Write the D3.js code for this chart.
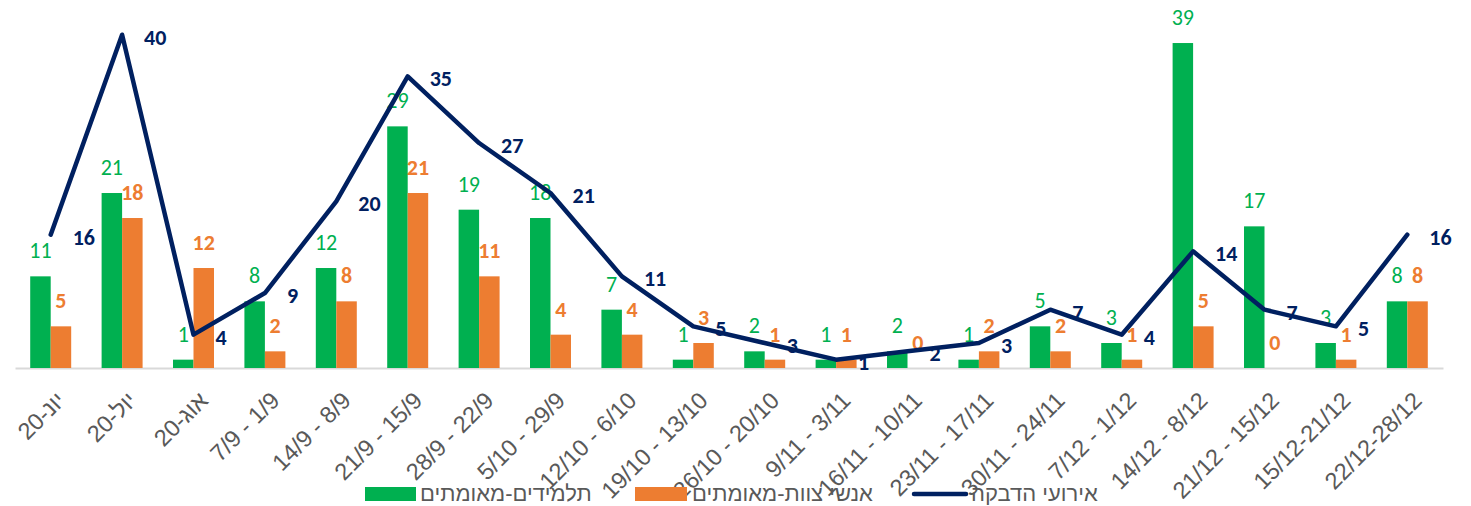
<!DOCTYPE html>
<html>
<head>
<meta charset="utf-8">
<script src="https://cdn.jsdelivr.net/npm/d3@7"></script>
<style>
  body { margin: 0; background: #fff; }
  svg { display: block; }
</style>
</head>
<body>
<svg id="chart"></svg>
<script>
var width = 1471;
var height = 506;

// week labels as they appear on the axis
var weeks = ["יונ-20", "יול-20", "אוג-20", "7/9 - 1/9", "14/9 - 8/9", "21/9 - 15/9",
  "28/9 - 22/9", "5/10 - 29/9", "12/10 - 6/10", "19/10 - 13/10", "26/10 - 20/10",
  "9/11 - 3/11", "16/11 - 10/11", "23/11 - 17/11", "30/11 - 24/11", "7/12 - 1/12",
  "14/12 - 8/12", "21/12 - 15/12", "15/12-21/12", "22/12-28/12"];

var students = [11, 21, 1, 8, 12, 29, 19, 18, 7, 1, 2, 1, 2, 1, 5, 3, 39, 17, 3, 8];
var staff = [5, 18, 12, 2, 8, 21, 11, 4, 4, 3, 1, 1, 0, 2, 2, 1, 5, 0, 1, 8];
var events = [16, 40, 4, 9, 20, 35, 27, 21, 11, 5, 3, 1, 2, 3, 7, 4, 14, 7, 5, 16];

var seriesNames = ["תלמידים-מאומתים", "אנשי צוות-מאומתים", "אירועי הדבקה"];

var green = "#00B050", orange = "#ED7D31", navy = "#002060";
var baseY = 368;

var data = weeks.map((w, i) => ({week: w, students: students[i], staff: staff[i], events: events[i]}));

var svg = d3.select("#chart").attr("width", width).attr("height", height);

var xScale = d3.scaleBand()
  .domain(weeks)
  .range([15, 1443])
  .paddingInner(0.426)
  .paddingOuter(0.213);

var subScale = d3.scaleBand()
  .domain(["students", "staff"])
  .range([0, xScale.bandwidth()]);

var yScale = d3.scaleLinear()
  .domain([0, 40])
  .range([baseY, baseY - 333.3]);

var axisFont = "'Liberation Sans', Arial, sans-serif";

// x axis
var xAxis = d3.axisBottom(xScale).tickSize(0).tickSizeOuter(0);
var gx = svg.append("g")
  .attr("transform", "translate(0," + baseY + ")")
  .call(xAxis);
gx.attr("font-family", axisFont);
gx.select(".domain").attr("stroke", "#d9d9d9").attr("stroke-width", 2);
gx.selectAll(".tick text")
  .attr("font-family", axisFont)
  .attr("font-size", 23.5)
  .attr("fill", "#595959")
  .attr("text-anchor", "end")
  .attr("dy", null)
  .attr("y", 0)
  .attr("transform", "translate(16,34) rotate(-45)");

// bars
var groups = svg.append("g").selectAll("g")
  .data(data)
  .enter()
  .append("g")
    .attr("transform", d => "translate(" + xScale(d.week) + ",0)");

groups.append("rect")
  .attr("x", subScale("students"))
  .attr("width", subScale.bandwidth())
  .attr("y", d => yScale(d.students))
  .attr("height", d => baseY - yScale(d.students))
  .attr("fill", green);

groups.append("rect")
  .attr("x", subScale("staff"))
  .attr("width", subScale.bandwidth())
  .attr("y", d => yScale(d.staff))
  .attr("height", d => baseY - yScale(d.staff))
  .attr("fill", orange);

var labelFont = "'Liberation Sans Narrow', 'Arial Narrow', Carlito, sans-serif";

groups.append("text")
  .attr("x", subScale("students") + subScale.bandwidth() / 2)
  .attr("y", d => yScale(d.students) - 18)
  .attr("text-anchor", "middle")
  .attr("font-family", labelFont)
  .attr("font-size", 22)
  .attr("fill", green)
  .text(d => d.students);

groups.append("text")
  .attr("x", subScale("staff") + subScale.bandwidth() / 2)
  .attr("y", d => yScale(d.staff) - 18)
  .attr("text-anchor", "middle")
  .attr("font-family", labelFont)
  .attr("font-weight", "bold")
  .attr("font-size", 22)
  .attr("fill", orange)
  .text(d => d.staff);

// line
var cx = d => xScale(d.week) + xScale.bandwidth() / 2;
var line = d3.line()
  .x(cx)
  .y(d => yScale(d.events));

svg.append("path")
  .datum(data)
  .attr("d", line)
  .attr("fill", "none")
  .attr("stroke", navy)
  .attr("stroke-width", 4.5)
  .attr("stroke-linejoin", "round")
  .attr("stroke-linecap", "round");

svg.append("g").selectAll("text")
  .data(data)
  .enter()
  .append("text")
    .attr("x", d => cx(d) + 22)
    .attr("y", d => yScale(d.events) + 10)
    .attr("font-family", labelFont)
    .attr("font-weight", "bold")
    .attr("font-size", 22)
    .attr("fill", navy)
    .text(d => d.events);

// legend
var legend = svg.append("g").attr("font-family", axisFont)
  .attr("font-size", 22).attr("fill", "#595959");

legend.append("rect").attr("x", 365).attr("y", 487).attr("width", 51).attr("height", 14).attr("fill", green);
legend.append("text").attr("x", 420).attr("y", 501).text(seriesNames[0]);

legend.append("rect").attr("x", 635).attr("y", 487).attr("width", 52).attr("height", 14).attr("fill", orange);
legend.append("text").attr("x", 692).attr("y", 501).text(seriesNames[1]);

legend.append("line").attr("x1", 914).attr("x2", 966).attr("y1", 494).attr("y2", 494)
  .attr("stroke", navy).attr("stroke-width", 4.5).attr("stroke-linecap", "round");
legend.append("text").attr("x", 971).attr("y", 501).text(seriesNames[2]);
</script>
</body>
</html>
